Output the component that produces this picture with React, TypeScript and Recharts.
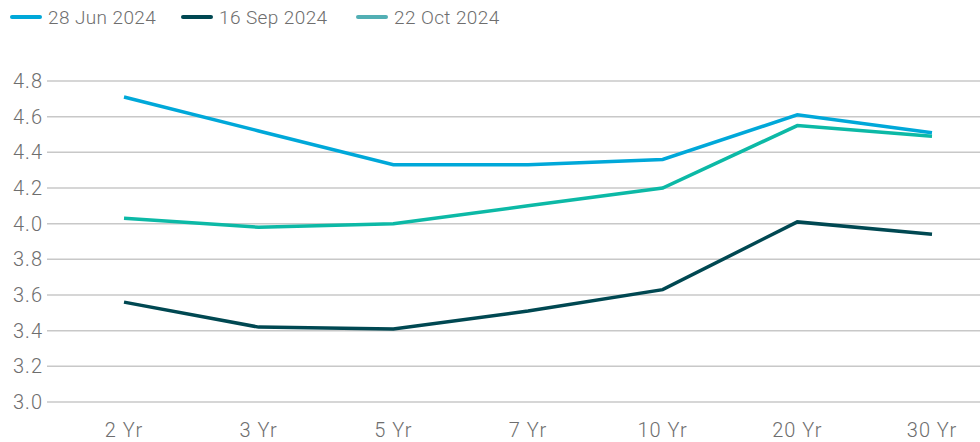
import { LineChart, Line, XAxis, YAxis, CartesianGrid } from 'recharts';

const tenors = ['2 Yr', '3 Yr', '5 Yr', '7 Yr', '10 Yr', '20 Yr', '30 Yr'];
const jun2024 = [4.71, 4.52, 4.33, 4.33, 4.36, 4.61, 4.51];
const sep2024 = [3.56, 3.42, 3.41, 3.51, 3.63, 4.01, 3.94];
const oct2024 = [4.03, 3.98, 4.0, 4.1, 4.2, 4.55, 4.49];
const yTicks = [3.0, 3.2, 3.4, 3.6, 3.8, 4.0, 4.2, 4.4, 4.6, 4.8];

const SERIES = [
  { key: 'jun', name: '28 Jun 2024', color: '#00A8D9', legend: '#00A8D9' },
  { key: 'sep', name: '16 Sep 2024', color: '#004852', legend: '#004852' },
  { key: 'oct', name: '22 Oct 2024', color: '#0CB9A6', legend: '#52AFB4' },
];

const data = tenors.map((t, i) => ({
  tenor: t,
  jun: jun2024[i],
  sep: sep2024[i],
  oct: oct2024[i],
}));

const FONT = 'Roboto, "Noto Sans", sans-serif';
const TEXT = '#6e6e6e';
const legendX = [10, 181, 356];
const tickStyle = { fill: TEXT, fontSize: 20, fontFamily: FONT, fontWeight: 300, letterSpacing: 1 };

export default function App() {
  return (
    <div style={{ position: 'absolute', left: 0, top: 0, width: 980, height: 442, fontFamily: FONT }}>
      {SERIES.map((s, i) => (
        <div
          key={s.key}
          style={{ position: 'absolute', left: legendX[i], top: 4, display: 'flex', alignItems: 'center', height: 26 }}
        >
          <div style={{ width: 32, height: 4, borderRadius: 2, background: s.legend, marginRight: 6 }} />
          <span style={{ fontSize: 19, fontWeight: 300, color: TEXT, letterSpacing: 0.4 }}>{s.name}</span>
        </div>
      ))}
      <LineChart width={980} height={442} data={data} margin={{ top: 81, right: 0, bottom: 0, left: 0 }}>
        <CartesianGrid vertical={false} stroke="#c8c8c8" strokeWidth={1.5} />
        <XAxis
          dataKey="tenor"
          axisLine={false}
          tickLine={false}
          height={40}
          tickMargin={15}
          padding={{ left: 77, right: 48 }}
          tick={tickStyle}
        />
        <YAxis
          width={47}
          domain={[3, 4.8]}
          ticks={yTicks}
          axisLine={false}
          tickLine={false}
          tickSize={0}
          tickMargin={4}
          tickFormatter={(v: number) => v.toFixed(1)}
          tick={tickStyle}
        />
        {SERIES.map((s) => (
          <Line
            key={s.key}
            dataKey={s.key}
            name={s.name}
            stroke={s.color}
            strokeWidth={3.5}
            dot={false}
            activeDot={false}
            isAnimationActive={false}
          />
        ))}
      </LineChart>
    </div>
  );
}
